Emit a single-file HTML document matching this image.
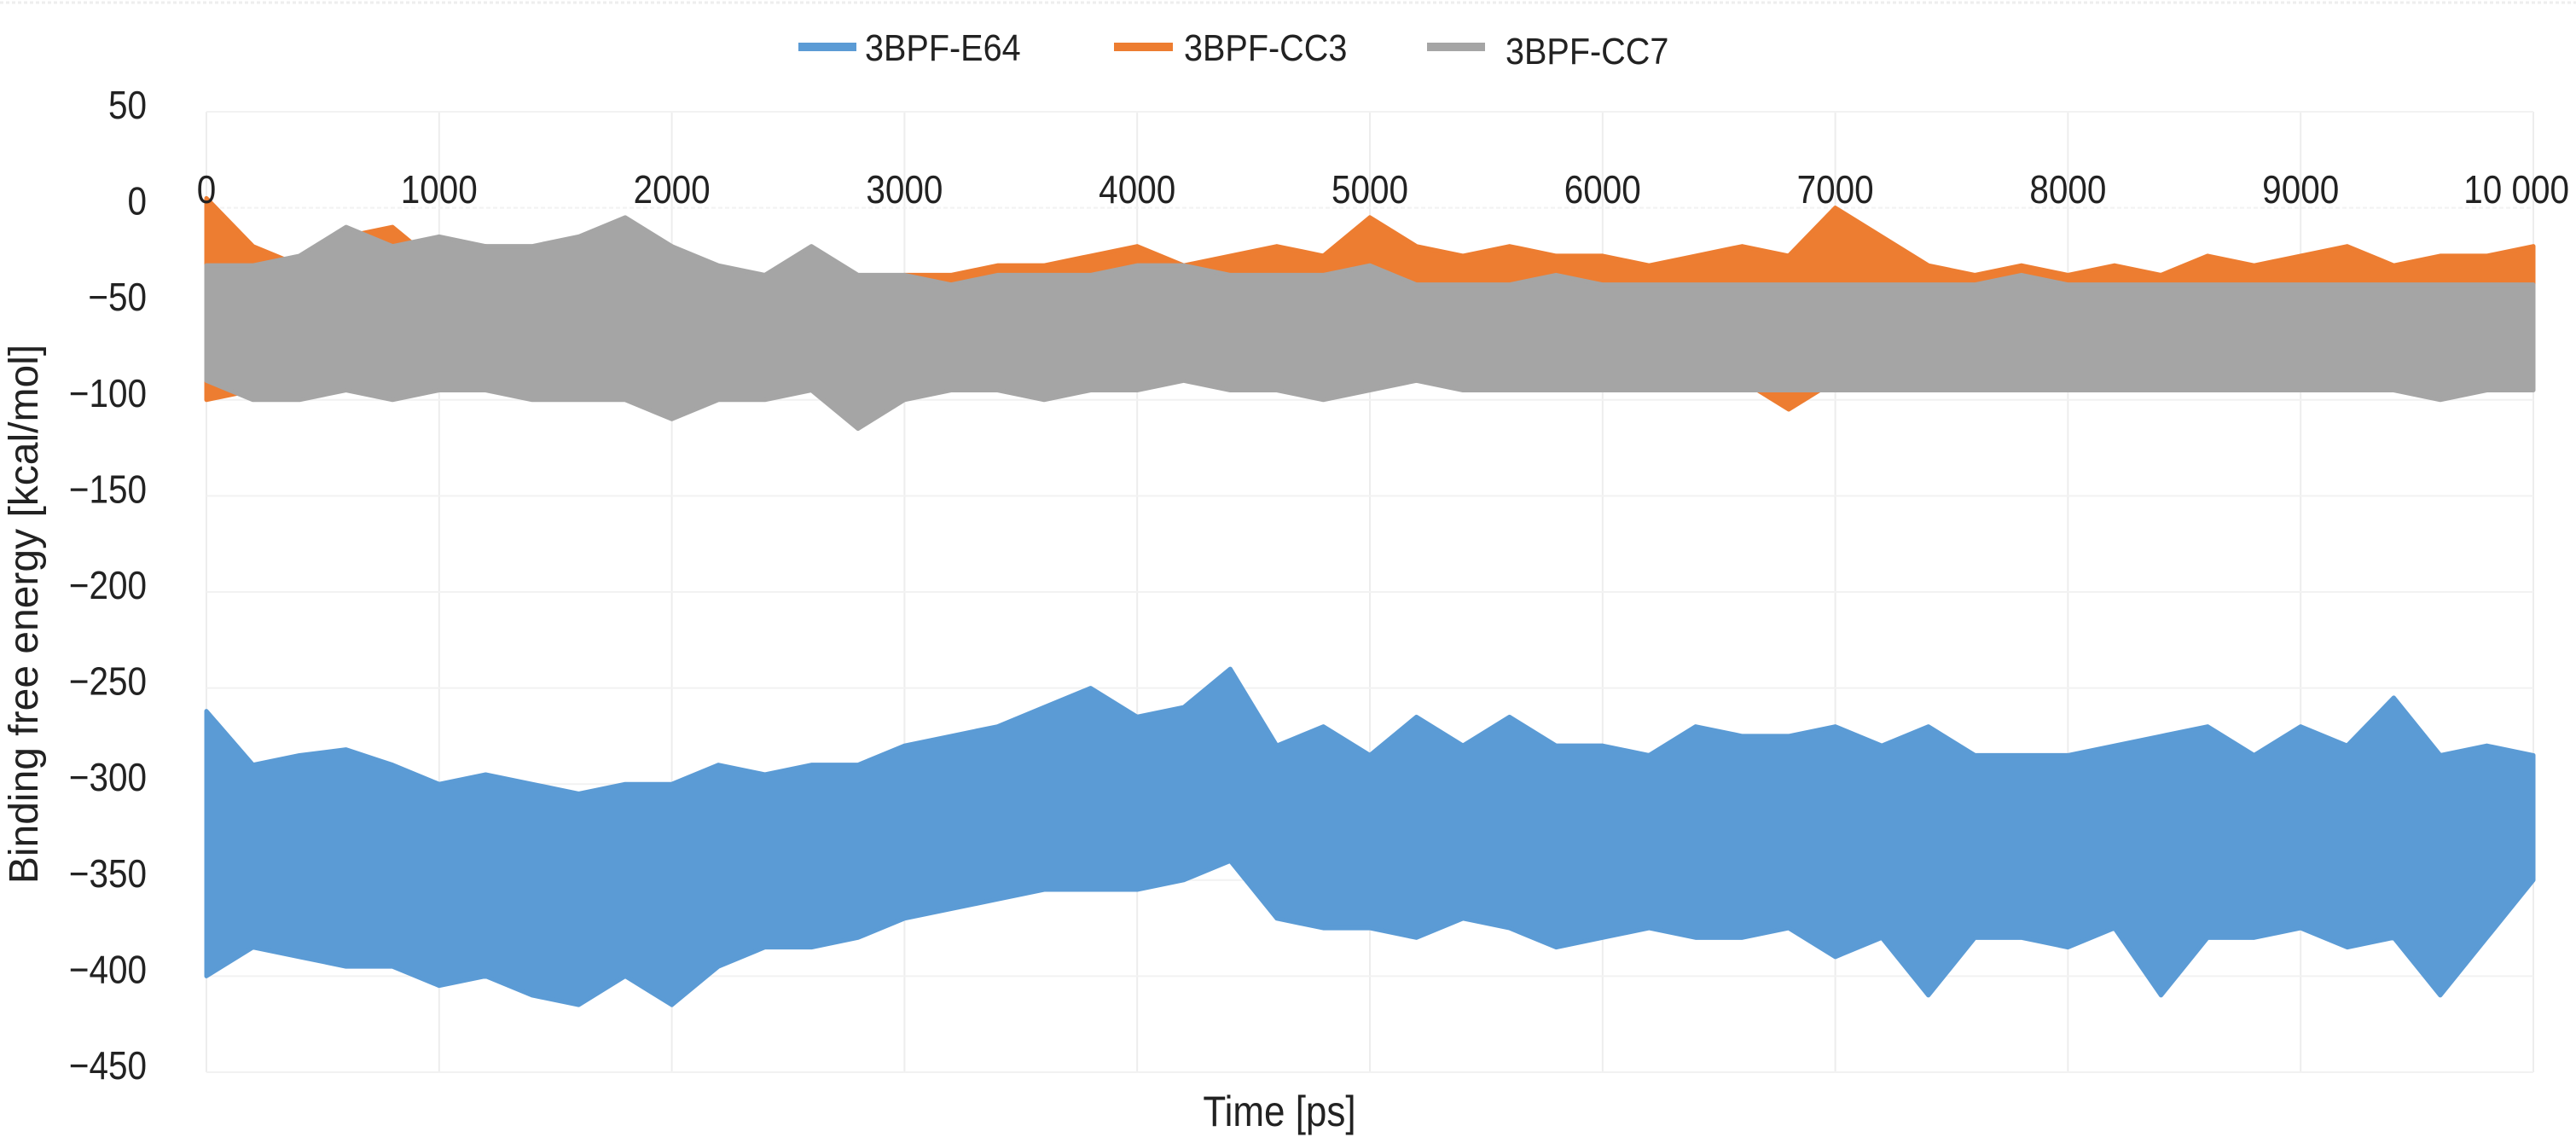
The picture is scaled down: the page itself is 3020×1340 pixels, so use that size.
<!DOCTYPE html>
<html><head><meta charset="utf-8"><style>
html,body{margin:0;padding:0;background:#fff;}
svg text{font-family:"Liberation Sans",sans-serif;fill:#222;}
</style></head><body>
<svg id="chart" width="3020" height="1335" viewBox="0 0 3020 1335" xmlns="http://www.w3.org/2000/svg">
<line x1="0" y1="3" x2="3020" y2="3" stroke="#eee" stroke-width="3" stroke-dasharray="4 3"/>
<g id="grid"></g>
<g id="series"></g>
<g id="axes"></g>
<g>
<g><line x1="936" y1="55" x2="1004" y2="55" stroke="#5b9bd5" stroke-width="10"/><text x="1014" y="71" font-size="44" transform="translate(1014 0) scale(0.9 1) translate(-1014 0)">3BPF-E64</text></g>
<g><line x1="1306" y1="55" x2="1375" y2="55" stroke="#ed7d31" stroke-width="10"/><text x="1388" y="71" font-size="44" transform="translate(1388 0) scale(0.9 1) translate(-1388 0)">3BPF-CC3</text></g>
<g><line x1="1673" y1="55" x2="1741" y2="55" stroke="#a5a5a5" stroke-width="10"/><text x="1765" y="75" font-size="44" transform="translate(1765 0) scale(0.9 1) translate(-1765 0)">3BPF-CC7</text></g>
</g>
<text x="0" y="0" font-size="48" text-anchor="middle" transform="translate(44 720) rotate(-90)">Binding free energy [kcal/mol]</text>
<text x="1500" y="1320" font-size="50" text-anchor="middle" transform="translate(1500 0) scale(0.88 1) translate(-1500 0)">Time [ps]</text>
</svg>
<script>
const times = [];
for (let i = 0; i <= 50; i++) times.push(i * 200);
const e64Hi = [-262,-290,-285,-282,-290,-300,-295,-300,-305,-300,-300,-290,-295,-290,-290,-280,-275,-270,-260,-250,-265,-260,-240,-280,-270,-285,-265,-280,-265,-280,-280,-285,-270,-275,-275,-270,-280,-270,-285,-285,-285,-280,-275,-270,-285,-270,-280,-255,-285,-280,-285];
const e64Lo = [-400,-385,-390,-395,-395,-405,-400,-410,-415,-400,-415,-395,-385,-385,-380,-370,-365,-360,-355,-355,-355,-350,-340,-370,-375,-375,-380,-370,-375,-385,-380,-375,-380,-380,-375,-390,-380,-410,-380,-380,-385,-375,-410,-380,-380,-375,-385,-380,-410,-380,-350];
const cc3Hi = [5,-20,-30,-15,-10,-30,-20,-25,-30,-20,-20,-45,-40,-40,-40,-35,-35,-30,-30,-25,-20,-30,-25,-20,-25,-5,-20,-25,-20,-25,-25,-30,-25,-20,-25,0,-15,-30,-35,-30,-35,-30,-35,-25,-30,-25,-20,-30,-25,-25,-20];
const cc3Lo = [-100,-95,-95,-90,-85,-80,-75,-75,-70,-70,-95,-95,-95,-90,-90,-90,-90,-90,-90,-90,-90,-85,-90,-90,-90,-85,-90,-90,-95,-90,-90,-90,-90,-90,-105,-90,-90,-90,-85,-90,-95,-85,-95,-90,-90,-90,-90,-90,-85,-90,-90];
const cc7Hi = [-30,-30,-25,-10,-20,-15,-20,-20,-15,-5,-20,-30,-35,-20,-35,-35,-40,-35,-35,-35,-30,-30,-35,-35,-35,-30,-40,-40,-40,-35,-40,-40,-40,-40,-40,-40,-40,-40,-40,-35,-40,-40,-40,-40,-40,-40,-40,-40,-40,-40,-40];
const cc7Lo = [-90,-100,-100,-95,-100,-95,-95,-100,-100,-100,-110,-100,-100,-95,-115,-100,-95,-95,-100,-95,-95,-90,-95,-95,-100,-95,-90,-95,-95,-95,-95,-95,-95,-95,-95,-95,-95,-95,-95,-95,-95,-95,-95,-95,-95,-95,-95,-95,-100,-95,-95];
const xTicks = [0,1000,2000,3000,4000,5000,6000,7000,8000,9000,10000];
const xTickLabels = ["0","1000","2000","3000","4000","5000","6000","7000","8000","9000","10 000"];
const yTicks = [50,0,-50,-100,-150,-200,-250,-300,-350,-400,-450];
const yTickLabels = ["50","0","\u221250","\u2212100","\u2212150","\u2212200","\u2212250","\u2212300","\u2212350","\u2212400","\u2212450"];

const NS = "http://www.w3.org/2000/svg";
const xS = t => 242 + t * 0.2728;
const yS = v => 131 + (50 - v) * 2.252;
function mk(tag, attrs, parent){const e=document.createElementNS(NS,tag);for(const k in attrs)e.setAttribute(k,attrs[k]);parent.appendChild(e);return e;}
const grid=document.getElementById('grid'), ser=document.getElementById('series'), axes=document.getElementById('axes');
xTicks.forEach((t,i)=>{
  const l=mk('line',{x1:xS(t),x2:xS(t),y1:yS(50),y2:yS(-450),stroke:'#ededed','stroke-width':2},grid);
  
  
  const last = i===xTicks.length-1;
  const lx = last ? 3012 : xS(t);
  const tx=mk('text',{x:lx,y:238,'font-size':46,'text-anchor':last?'end':'middle',transform:`translate(${lx} 0) scale(0.88 1) translate(${-lx} 0)`},axes);
  tx.textContent=xTickLabels[i];
  
  
});
yTicks.forEach((v,i)=>{
  const l=mk('line',{x1:xS(0),x2:xS(10000),y1:yS(v),y2:yS(v),stroke:'#f2f2f2','stroke-width':2,'stroke-dasharray':v===0?'5 3':'none'},grid);
  
  
  const tx=mk('text',{x:172,y:yS(v)+8,'font-size':46,'text-anchor':'end',transform:`translate(172 0) scale(0.88 1) translate(-172 0)`},axes);
  tx.textContent=yTickLabels[i];
  
  
});
function band(hi,lo,color,name){
  const pts=[];
  for(let i=0;i<times.length;i++)pts.push(xS(times[i])+','+yS(hi[i]));
  for(let i=times.length-1;i>=0;i--)pts.push(xS(times[i])+','+yS(lo[i]));
  const p=mk('polygon',{points:pts.join(' '),fill:color,stroke:color,'stroke-width':5,'stroke-linejoin':'round'},ser);
  
  
}
band(cc3Hi,cc3Lo,'#ed7d31','series-3bpf-cc3');
band(cc7Hi,cc7Lo,'#a5a5a5','series-3bpf-cc7');
band(e64Hi,e64Lo,'#5b9bd5','series-3bpf-e64');
</script>
</body></html>
